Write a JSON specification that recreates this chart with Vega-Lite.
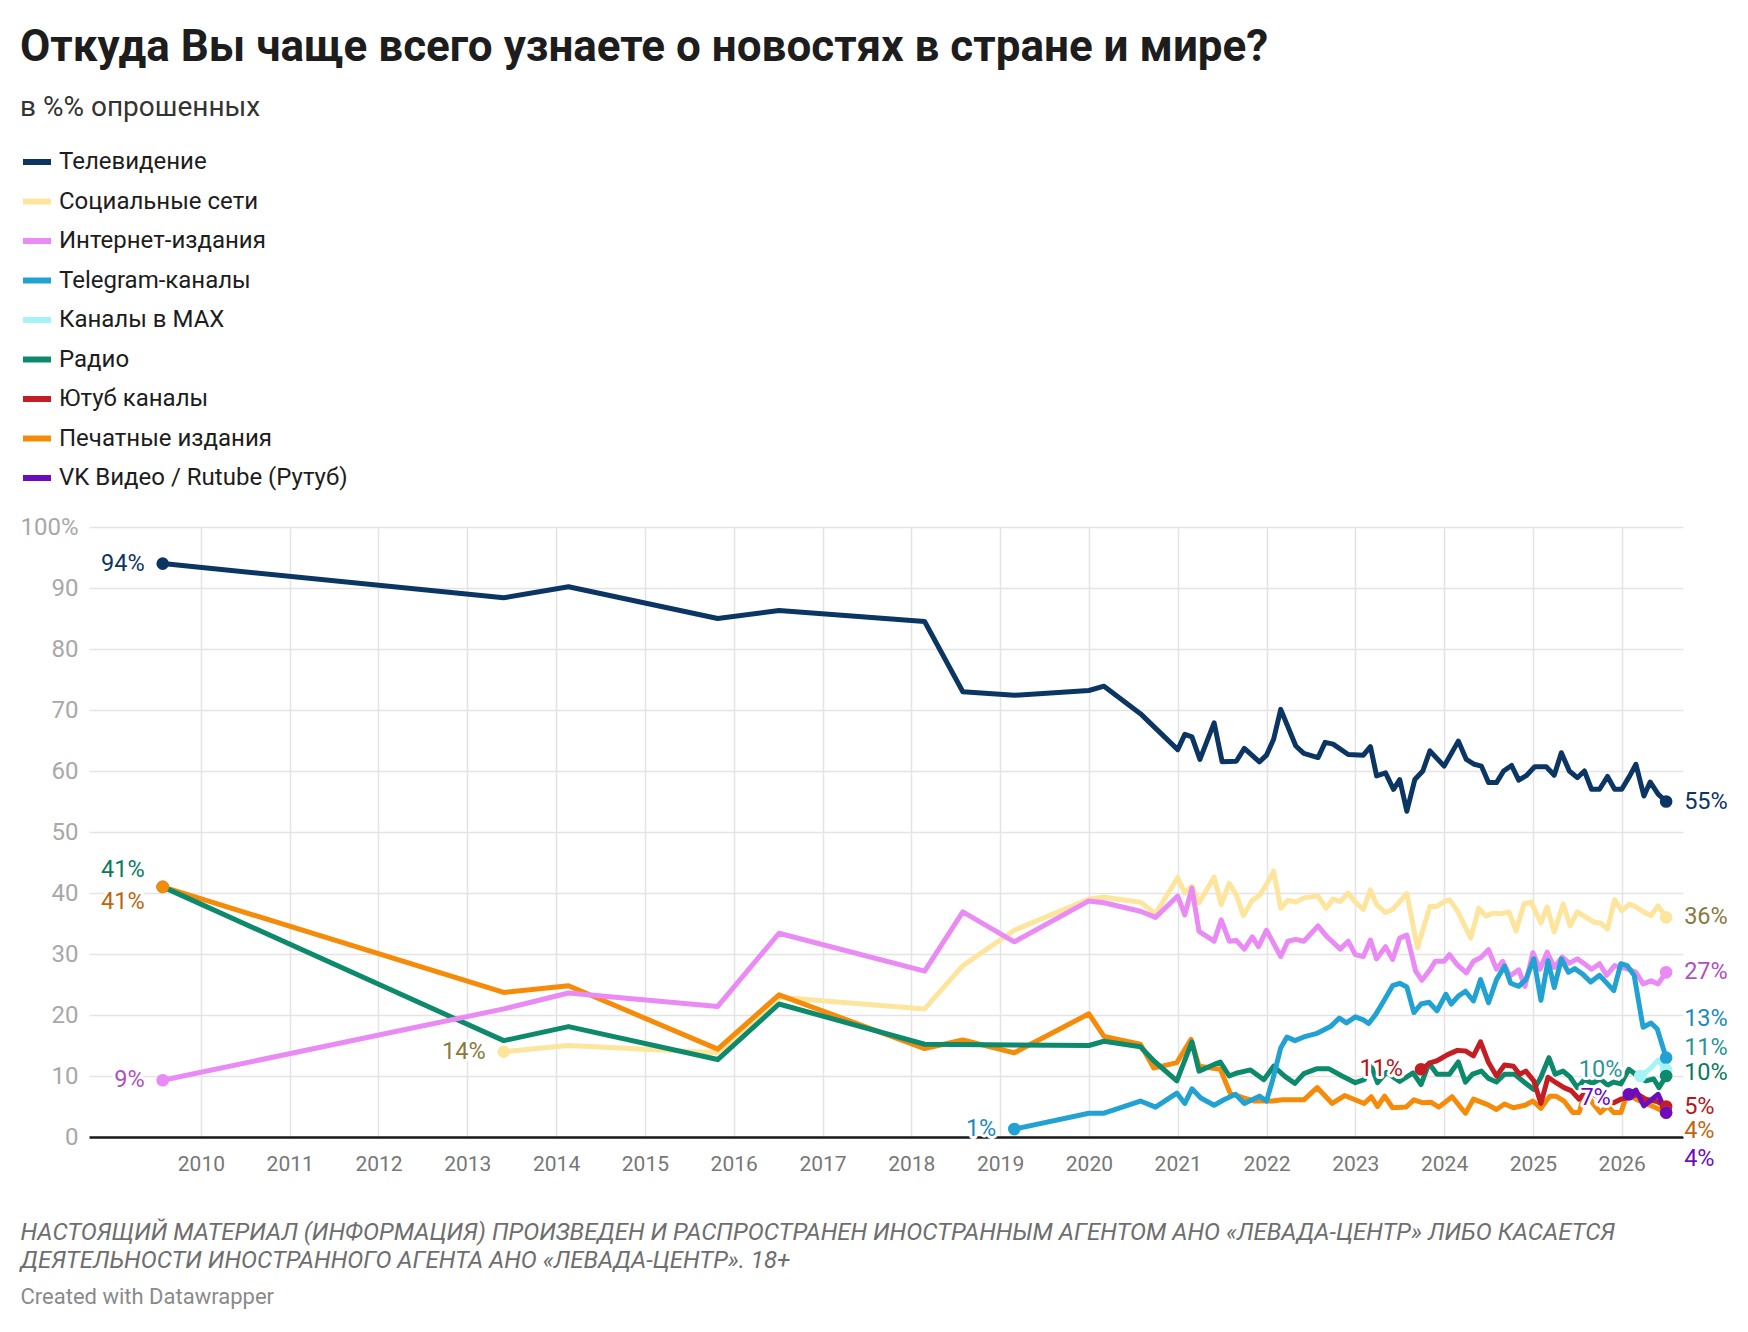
{
  "$schema": "https://vega.github.io/schema/vega-lite/v6.json",
  "width": 1594,
  "height": 610,
  "autosize": {"type": "none"},
  "padding": {"left": 89, "top": 527, "right": 65, "bottom": 195},
  "background": "white",
  "config": {
    "font": "Roboto",
    "view": {"stroke": null}
  },
  "title": {
    "text": "Откуда Вы чаще всего узнаете о новостях в стране и мире?",
    "subtitle": "в %% опрошенных",
    "anchor": "start",
    "frame": "group",
    "orient": "top",
    "offset": 23.5,
    "dx": -69,
    "font": "Roboto",
    "fontSize": 44,
    "fontWeight": 700,
    "color": "#1d1d1d",
    "subtitleFont": "Roboto",
    "subtitleFontSize": 28,
    "subtitleColor": "#333333",
    "subtitlePadding": 24
  },
  "datasets": {
    "lines": [
      {"series": "Социальные сети", "year": 2013.41, "value": 14},
      {"series": "Социальные сети", "year": 2014.14, "value": 15.0},
      {"series": "Социальные сети", "year": 2015.82, "value": 13.8},
      {"series": "Социальные сети", "year": 2016.51, "value": 22.9},
      {"series": "Социальные сети", "year": 2018.15, "value": 21.0},
      {"series": "Социальные сети", "year": 2018.58, "value": 28.1},
      {"series": "Социальные сети", "year": 2019.16, "value": 33.9},
      {"series": "Социальные сети", "year": 2020.0, "value": 39.0},
      {"series": "Социальные сети", "year": 2020.17, "value": 39.3},
      {"series": "Социальные сети", "year": 2020.58, "value": 38.5},
      {"series": "Социальные сети", "year": 2020.75, "value": 36.6},
      {"series": "Социальные сети", "year": 2021.0, "value": 42.5},
      {"series": "Социальные сети", "year": 2021.08, "value": 40.0},
      {"series": "Социальные сети", "year": 2021.16, "value": 41.1},
      {"series": "Социальные сети", "year": 2021.24, "value": 38.4},
      {"series": "Социальные сети", "year": 2021.41, "value": 42.6},
      {"series": "Социальные сети", "year": 2021.49, "value": 38.1},
      {"series": "Социальные сети", "year": 2021.58, "value": 41.6},
      {"series": "Социальные сети", "year": 2021.66, "value": 39.7},
      {"series": "Социальные сети", "year": 2021.74, "value": 36.3},
      {"series": "Социальные сети", "year": 2021.84, "value": 38.8},
      {"series": "Социальные сети", "year": 2021.92, "value": 39.6},
      {"series": "Социальные сети", "year": 2022.0, "value": 41.4},
      {"series": "Социальные сети", "year": 2022.08, "value": 43.6},
      {"series": "Социальные сети", "year": 2022.16, "value": 37.5},
      {"series": "Социальные сети", "year": 2022.24, "value": 38.8},
      {"series": "Социальные сети", "year": 2022.33, "value": 38.5},
      {"series": "Социальные сети", "year": 2022.42, "value": 39.2},
      {"series": "Социальные сети", "year": 2022.58, "value": 39.5},
      {"series": "Социальные сети", "year": 2022.67, "value": 37.5},
      {"series": "Социальные сети", "year": 2022.75, "value": 39.0},
      {"series": "Социальные сети", "year": 2022.83, "value": 38.6},
      {"series": "Социальные сети", "year": 2022.92, "value": 40.0},
      {"series": "Социальные сети", "year": 2023.0, "value": 38.5},
      {"series": "Социальные сети", "year": 2023.09, "value": 37.3},
      {"series": "Социальные сети", "year": 2023.17, "value": 40.5},
      {"series": "Социальные сети", "year": 2023.24, "value": 38.1},
      {"series": "Социальные сети", "year": 2023.34, "value": 36.8},
      {"series": "Социальные сети", "year": 2023.42, "value": 37.3},
      {"series": "Социальные сети", "year": 2023.58, "value": 39.9},
      {"series": "Социальные сети", "year": 2023.7, "value": 31.0},
      {"series": "Социальные сети", "year": 2023.84, "value": 37.8},
      {"series": "Социальные сети", "year": 2023.92, "value": 37.8},
      {"series": "Социальные сети", "year": 2024.0, "value": 38.6},
      {"series": "Социальные сети", "year": 2024.06, "value": 38.9},
      {"series": "Социальные сети", "year": 2024.14, "value": 37.3},
      {"series": "Социальные сети", "year": 2024.3, "value": 32.6},
      {"series": "Социальные сети", "year": 2024.39, "value": 37.5},
      {"series": "Социальные сети", "year": 2024.47, "value": 36.2},
      {"series": "Социальные сети", "year": 2024.55, "value": 36.7},
      {"series": "Социальные сети", "year": 2024.64, "value": 36.6},
      {"series": "Социальные сети", "year": 2024.73, "value": 36.9},
      {"series": "Социальные сети", "year": 2024.81, "value": 33.8},
      {"series": "Социальные сети", "year": 2024.9, "value": 38.2},
      {"series": "Социальные сети", "year": 2024.98, "value": 38.5},
      {"series": "Социальные сети", "year": 2025.09, "value": 35.1},
      {"series": "Социальные сети", "year": 2025.16, "value": 37.7},
      {"series": "Социальные сети", "year": 2025.24, "value": 33.6},
      {"series": "Социальные сети", "year": 2025.34, "value": 38.2},
      {"series": "Социальные сети", "year": 2025.42, "value": 34.6},
      {"series": "Социальные сети", "year": 2025.5, "value": 36.9},
      {"series": "Социальные сети", "year": 2025.6, "value": 36.0},
      {"series": "Социальные сети", "year": 2025.69, "value": 35.2},
      {"series": "Социальные сети", "year": 2025.76, "value": 35.1},
      {"series": "Социальные сети", "year": 2025.84, "value": 34.1},
      {"series": "Социальные сети", "year": 2025.92, "value": 38.9},
      {"series": "Социальные сети", "year": 2026.0, "value": 37.1},
      {"series": "Социальные сети", "year": 2026.09, "value": 38.2},
      {"series": "Социальные сети", "year": 2026.16, "value": 37.7},
      {"series": "Социальные сети", "year": 2026.25, "value": 36.9},
      {"series": "Социальные сети", "year": 2026.33, "value": 36.3},
      {"series": "Социальные сети", "year": 2026.41, "value": 37.9},
      {"series": "Социальные сети", "year": 2026.5, "value": 36.0},

      {"series": "Печатные издания", "year": 2009.57, "value": 41},
      {"series": "Печатные издания", "year": 2013.41, "value": 23.7},
      {"series": "Печатные издания", "year": 2014.14, "value": 24.8},
      {"series": "Печатные издания", "year": 2015.82, "value": 14.4},
      {"series": "Печатные издания", "year": 2016.51, "value": 23.3},
      {"series": "Печатные издания", "year": 2018.15, "value": 14.5},
      {"series": "Печатные издания", "year": 2018.58, "value": 15.9},
      {"series": "Печатные издания", "year": 2019.16, "value": 13.8},
      {"series": "Печатные издания", "year": 2020.0, "value": 20.2},
      {"series": "Печатные издания", "year": 2020.17, "value": 16.5},
      {"series": "Печатные издания", "year": 2020.58, "value": 15.2},
      {"series": "Печатные издания", "year": 2020.73, "value": 11.3},
      {"series": "Печатные издания", "year": 2020.99, "value": 12.2},
      {"series": "Печатные издания", "year": 2021.15, "value": 16.0},
      {"series": "Печатные издания", "year": 2021.24, "value": 11.6},
      {"series": "Печатные издания", "year": 2021.48, "value": 11.1},
      {"series": "Печатные издания", "year": 2021.59, "value": 7.2},
      {"series": "Печатные издания", "year": 2021.74, "value": 6.4},
      {"series": "Печатные издания", "year": 2021.86, "value": 5.9},
      {"series": "Печатные издания", "year": 2022.06, "value": 5.9},
      {"series": "Печатные издания", "year": 2022.18, "value": 6.1},
      {"series": "Печатные издания", "year": 2022.42, "value": 6.1},
      {"series": "Печатные издания", "year": 2022.57, "value": 8.1},
      {"series": "Печатные издания", "year": 2022.74, "value": 5.5},
      {"series": "Печатные издания", "year": 2022.88, "value": 6.8},
      {"series": "Печатные издания", "year": 2023.1, "value": 5.5},
      {"series": "Печатные издания", "year": 2023.18, "value": 6.6},
      {"series": "Печатные издания", "year": 2023.25, "value": 5.0},
      {"series": "Печатные издания", "year": 2023.33, "value": 6.7},
      {"series": "Печатные издания", "year": 2023.42, "value": 4.8},
      {"series": "Печатные издания", "year": 2023.57, "value": 4.9},
      {"series": "Печатные издания", "year": 2023.66, "value": 6.1},
      {"series": "Печатные издания", "year": 2023.76, "value": 5.6},
      {"series": "Печатные издания", "year": 2023.85, "value": 5.7},
      {"series": "Печатные издания", "year": 2023.94, "value": 4.9},
      {"series": "Печатные издания", "year": 2024.09, "value": 6.6},
      {"series": "Печатные издания", "year": 2024.24, "value": 3.9},
      {"series": "Печатные издания", "year": 2024.33, "value": 6.2},
      {"series": "Печатные издания", "year": 2024.49, "value": 5.3},
      {"series": "Печатные издания", "year": 2024.59, "value": 4.5},
      {"series": "Печатные издания", "year": 2024.68, "value": 5.4},
      {"series": "Печатные издания", "year": 2024.78, "value": 4.8},
      {"series": "Печатные издания", "year": 2024.91, "value": 5.2},
      {"series": "Печатные издания", "year": 2025.0, "value": 5.9},
      {"series": "Печатные издания", "year": 2025.09, "value": 4.7},
      {"series": "Печатные издания", "year": 2025.19, "value": 6.7},
      {"series": "Печатные издания", "year": 2025.26, "value": 6.7},
      {"series": "Печатные издания", "year": 2025.35, "value": 5.9},
      {"series": "Печатные издания", "year": 2025.45, "value": 4.0},
      {"series": "Печатные издания", "year": 2025.52, "value": 4.0},
      {"series": "Печатные издания", "year": 2025.59, "value": 7.6},
      {"series": "Печатные издания", "year": 2025.67, "value": 5.6},
      {"series": "Печатные издания", "year": 2025.76, "value": 4.0},
      {"series": "Печатные издания", "year": 2025.84, "value": 5.1},
      {"series": "Печатные издания", "year": 2025.91, "value": 4.0},
      {"series": "Печатные издания", "year": 2025.99, "value": 4.0},
      {"series": "Печатные издания", "year": 2026.06, "value": 7.0},
      {"series": "Печатные издания", "year": 2026.16, "value": 6.2},
      {"series": "Печатные издания", "year": 2026.25, "value": 5.6},
      {"series": "Печатные издания", "year": 2026.34, "value": 5.1},
      {"series": "Печатные издания", "year": 2026.5, "value": 4.0},

      {"series": "Радио", "year": 2009.57, "value": 41},
      {"series": "Радио", "year": 2013.41, "value": 15.8},
      {"series": "Радио", "year": 2014.14, "value": 18.1},
      {"series": "Радио", "year": 2015.82, "value": 12.7},
      {"series": "Радио", "year": 2016.51, "value": 21.8},
      {"series": "Радио", "year": 2018.15, "value": 15.2},
      {"series": "Радио", "year": 2019.16, "value": 15.1},
      {"series": "Радио", "year": 2020.0, "value": 15.0},
      {"series": "Радио", "year": 2020.17, "value": 15.7},
      {"series": "Радио", "year": 2020.58, "value": 14.8},
      {"series": "Радио", "year": 2020.73, "value": 12.5},
      {"series": "Радио", "year": 2020.99, "value": 9.2},
      {"series": "Радио", "year": 2021.16, "value": 15.6},
      {"series": "Радио", "year": 2021.24, "value": 10.8},
      {"series": "Радио", "year": 2021.41, "value": 11.9},
      {"series": "Радио", "year": 2021.48, "value": 12.3},
      {"series": "Радио", "year": 2021.58, "value": 10.0},
      {"series": "Радио", "year": 2021.67, "value": 10.5},
      {"series": "Радио", "year": 2021.82, "value": 11.0},
      {"series": "Радио", "year": 2021.97, "value": 9.4},
      {"series": "Радио", "year": 2022.08, "value": 11.6},
      {"series": "Радио", "year": 2022.21, "value": 9.9},
      {"series": "Радио", "year": 2022.32, "value": 8.8},
      {"series": "Радио", "year": 2022.42, "value": 10.4},
      {"series": "Радио", "year": 2022.57, "value": 11.2},
      {"series": "Радио", "year": 2022.7, "value": 11.2},
      {"series": "Радио", "year": 2022.85, "value": 10.0},
      {"series": "Радио", "year": 2023.0, "value": 8.9},
      {"series": "Радио", "year": 2023.1, "value": 9.4},
      {"series": "Радио", "year": 2023.18, "value": 11.6},
      {"series": "Радио", "year": 2023.25, "value": 8.9},
      {"series": "Радио", "year": 2023.35, "value": 10.6},
      {"series": "Радио", "year": 2023.5, "value": 9.1},
      {"series": "Радио", "year": 2023.65, "value": 10.5},
      {"series": "Радио", "year": 2023.74, "value": 8.6},
      {"series": "Радио", "year": 2023.83, "value": 12.1},
      {"series": "Радио", "year": 2023.92, "value": 10.3},
      {"series": "Радио", "year": 2024.06, "value": 10.3},
      {"series": "Радио", "year": 2024.16, "value": 12.3},
      {"series": "Радио", "year": 2024.24, "value": 9.0},
      {"series": "Радио", "year": 2024.32, "value": 10.3},
      {"series": "Радио", "year": 2024.42, "value": 10.8},
      {"series": "Радио", "year": 2024.5, "value": 9.6},
      {"series": "Радио", "year": 2024.59, "value": 9.0},
      {"series": "Радио", "year": 2024.68, "value": 10.3},
      {"series": "Радио", "year": 2024.79, "value": 10.3},
      {"series": "Радио", "year": 2024.91, "value": 8.9},
      {"series": "Радио", "year": 2025.01, "value": 7.8},
      {"series": "Радио", "year": 2025.09, "value": 9.8},
      {"series": "Радио", "year": 2025.18, "value": 13.0},
      {"series": "Радио", "year": 2025.25, "value": 10.3},
      {"series": "Радио", "year": 2025.34, "value": 10.8},
      {"series": "Радио", "year": 2025.42, "value": 9.8},
      {"series": "Радио", "year": 2025.5, "value": 8.1},
      {"series": "Радио", "year": 2025.58, "value": 9.4},
      {"series": "Радио", "year": 2025.67, "value": 8.8},
      {"series": "Радио", "year": 2025.76, "value": 9.5},
      {"series": "Радио", "year": 2025.84, "value": 8.5},
      {"series": "Радио", "year": 2025.91, "value": 9.0},
      {"series": "Радио", "year": 2025.99, "value": 8.7},
      {"series": "Радио", "year": 2026.08, "value": 11.1},
      {"series": "Радио", "year": 2026.18, "value": 10.0},
      {"series": "Радио", "year": 2026.27, "value": 9.2},
      {"series": "Радио", "year": 2026.36, "value": 9.5},
      {"series": "Радио", "year": 2026.42, "value": 8.1},
      {"series": "Радио", "year": 2026.5, "value": 10.0},

      {"series": "Ютуб каналы", "year": 2023.74, "value": 11.1},
      {"series": "Ютуб каналы", "year": 2023.85, "value": 12.2},
      {"series": "Ютуб каналы", "year": 2023.92, "value": 12.5},
      {"series": "Ютуб каналы", "year": 2024.04, "value": 13.5},
      {"series": "Ютуб каналы", "year": 2024.15, "value": 14.2},
      {"series": "Ютуб каналы", "year": 2024.24, "value": 14.1},
      {"series": "Ютуб каналы", "year": 2024.33, "value": 13.3},
      {"series": "Ютуб каналы", "year": 2024.41, "value": 15.6},
      {"series": "Ютуб каналы", "year": 2024.5, "value": 12.2},
      {"series": "Ютуб каналы", "year": 2024.59, "value": 10.0},
      {"series": "Ютуб каналы", "year": 2024.68, "value": 11.8},
      {"series": "Ютуб каналы", "year": 2024.78, "value": 11.6},
      {"series": "Ютуб каналы", "year": 2024.85, "value": 10.3},
      {"series": "Ютуб каналы", "year": 2024.92, "value": 10.8},
      {"series": "Ютуб каналы", "year": 2025.01, "value": 9.2},
      {"series": "Ютуб каналы", "year": 2025.09, "value": 5.5},
      {"series": "Ютуб каналы", "year": 2025.17, "value": 9.8},
      {"series": "Ютуб каналы", "year": 2025.26, "value": 8.9},
      {"series": "Ютуб каналы", "year": 2025.35, "value": 8.1},
      {"series": "Ютуб каналы", "year": 2025.43, "value": 7.6},
      {"series": "Ютуб каналы", "year": 2025.52, "value": 6.2},
      {"series": "Ютуб каналы", "year": 2025.6, "value": 7.5},
      {"series": "Ютуб каналы", "year": 2025.75, "value": 6.5},
      {"series": "Ютуб каналы", "year": 2025.91, "value": 5.6},
      {"series": "Ютуб каналы", "year": 2025.99, "value": 6.2},
      {"series": "Ютуб каналы", "year": 2026.08, "value": 6.5},
      {"series": "Ютуб каналы", "year": 2026.18, "value": 7.0},
      {"series": "Ютуб каналы", "year": 2026.27, "value": 6.2},
      {"series": "Ютуб каналы", "year": 2026.4, "value": 5.8},
      {"series": "Ютуб каналы", "year": 2026.5, "value": 5.0},

      {"series": "Интернет-издания", "year": 2009.57, "value": 9.3},
      {"series": "Интернет-издания", "year": 2013.41, "value": 21.0},
      {"series": "Интернет-издания", "year": 2014.14, "value": 23.6},
      {"series": "Интернет-издания", "year": 2015.82, "value": 21.4},
      {"series": "Интернет-издания", "year": 2016.51, "value": 33.4},
      {"series": "Интернет-издания", "year": 2018.15, "value": 27.2},
      {"series": "Интернет-издания", "year": 2018.58, "value": 36.9},
      {"series": "Интернет-издания", "year": 2019.16, "value": 32.0},
      {"series": "Интернет-издания", "year": 2020.0, "value": 38.7},
      {"series": "Интернет-издания", "year": 2020.17, "value": 38.4},
      {"series": "Интернет-издания", "year": 2020.58, "value": 37.0},
      {"series": "Интернет-издания", "year": 2020.75, "value": 36.0},
      {"series": "Интернет-издания", "year": 2021.0, "value": 39.5},
      {"series": "Интернет-издания", "year": 2021.08, "value": 36.4},
      {"series": "Интернет-издания", "year": 2021.16, "value": 40.8},
      {"series": "Интернет-издания", "year": 2021.24, "value": 33.7},
      {"series": "Интернет-издания", "year": 2021.41, "value": 32.1},
      {"series": "Интернет-издания", "year": 2021.49, "value": 35.6},
      {"series": "Интернет-издания", "year": 2021.58, "value": 32.1},
      {"series": "Интернет-издания", "year": 2021.66, "value": 32.2},
      {"series": "Интернет-издания", "year": 2021.75, "value": 30.8},
      {"series": "Интернет-издания", "year": 2021.84, "value": 32.8},
      {"series": "Интернет-издания", "year": 2021.91, "value": 31.2},
      {"series": "Интернет-издания", "year": 2022.0, "value": 33.9},
      {"series": "Интернет-издания", "year": 2022.16, "value": 29.6},
      {"series": "Интернет-издания", "year": 2022.24, "value": 32.1},
      {"series": "Интернет-издания", "year": 2022.33, "value": 32.4},
      {"series": "Интернет-издания", "year": 2022.42, "value": 32.1},
      {"series": "Интернет-издания", "year": 2022.58, "value": 34.6},
      {"series": "Интернет-издания", "year": 2022.67, "value": 33.0},
      {"series": "Интернет-издания", "year": 2022.83, "value": 30.8},
      {"series": "Интернет-издания", "year": 2022.92, "value": 32.1},
      {"series": "Интернет-издания", "year": 2023.0, "value": 29.9},
      {"series": "Интернет-издания", "year": 2023.09, "value": 29.6},
      {"series": "Интернет-издания", "year": 2023.17, "value": 32.3},
      {"series": "Интернет-издания", "year": 2023.24, "value": 29.2},
      {"series": "Интернет-издания", "year": 2023.34, "value": 31.2},
      {"series": "Интернет-издания", "year": 2023.42, "value": 29.1},
      {"series": "Интернет-издания", "year": 2023.5, "value": 32.6},
      {"series": "Интернет-издания", "year": 2023.58, "value": 33.1},
      {"series": "Интернет-издания", "year": 2023.68, "value": 27.2},
      {"series": "Интернет-издания", "year": 2023.75, "value": 25.7},
      {"series": "Интернет-издания", "year": 2023.84, "value": 27.4},
      {"series": "Интернет-издания", "year": 2023.9, "value": 28.8},
      {"series": "Интернет-издания", "year": 2024.0, "value": 28.8},
      {"series": "Интернет-издания", "year": 2024.06, "value": 29.9},
      {"series": "Интернет-издания", "year": 2024.15, "value": 28.2},
      {"series": "Интернет-издания", "year": 2024.25, "value": 26.9},
      {"series": "Интернет-издания", "year": 2024.33, "value": 28.8},
      {"series": "Интернет-издания", "year": 2024.41, "value": 29.4},
      {"series": "Интернет-издания", "year": 2024.5, "value": 30.7},
      {"series": "Интернет-издания", "year": 2024.59, "value": 27.5},
      {"series": "Интернет-издания", "year": 2024.66, "value": 28.8},
      {"series": "Интернет-издания", "year": 2024.74, "value": 26.4},
      {"series": "Интернет-издания", "year": 2024.84, "value": 27.4},
      {"series": "Интернет-издания", "year": 2024.91, "value": 24.7},
      {"series": "Интернет-издания", "year": 2025.0, "value": 30.2},
      {"series": "Интернет-издания", "year": 2025.08, "value": 27.5},
      {"series": "Интернет-издания", "year": 2025.16, "value": 30.3},
      {"series": "Интернет-издания", "year": 2025.24, "value": 27.8},
      {"series": "Интернет-издания", "year": 2025.33, "value": 29.5},
      {"series": "Интернет-издания", "year": 2025.41, "value": 28.5},
      {"series": "Интернет-издания", "year": 2025.5, "value": 29.2},
      {"series": "Интернет-издания", "year": 2025.58, "value": 28.4},
      {"series": "Интернет-издания", "year": 2025.66, "value": 27.5},
      {"series": "Интернет-издания", "year": 2025.75, "value": 28.4},
      {"series": "Интернет-издания", "year": 2025.83, "value": 26.5},
      {"series": "Интернет-издания", "year": 2025.92, "value": 28.1},
      {"series": "Интернет-издания", "year": 2026.0, "value": 27.8},
      {"series": "Интернет-издания", "year": 2026.08, "value": 27.5},
      {"series": "Интернет-издания", "year": 2026.16, "value": 27.0},
      {"series": "Интернет-издания", "year": 2026.24, "value": 25.1},
      {"series": "Интернет-издания", "year": 2026.33, "value": 25.6},
      {"series": "Интернет-издания", "year": 2026.41, "value": 25.1},
      {"series": "Интернет-издания", "year": 2026.5, "value": 27.0},

      {"series": "Каналы в MAX", "year": 2026.21, "value": 10.0},
      {"series": "Каналы в MAX", "year": 2026.32, "value": 11.2},
      {"series": "Каналы в MAX", "year": 2026.41, "value": 12.6},
      {"series": "Каналы в MAX", "year": 2026.5, "value": 11.0},

      {"series": "Telegram-каналы", "year": 2019.16, "value": 1.3},
      {"series": "Telegram-каналы", "year": 2020.0, "value": 3.9},
      {"series": "Telegram-каналы", "year": 2020.17, "value": 3.9},
      {"series": "Telegram-каналы", "year": 2020.58, "value": 5.9},
      {"series": "Telegram-каналы", "year": 2020.75, "value": 4.9},
      {"series": "Telegram-каналы", "year": 2020.99, "value": 7.2},
      {"series": "Telegram-каналы", "year": 2021.08, "value": 5.5},
      {"series": "Telegram-каналы", "year": 2021.16, "value": 7.9},
      {"series": "Telegram-каналы", "year": 2021.26, "value": 6.4},
      {"series": "Telegram-каналы", "year": 2021.41, "value": 5.2},
      {"series": "Telegram-каналы", "year": 2021.52, "value": 6.1},
      {"series": "Telegram-каналы", "year": 2021.65, "value": 7.0},
      {"series": "Telegram-каналы", "year": 2021.75, "value": 5.5},
      {"series": "Telegram-каналы", "year": 2021.92, "value": 6.7},
      {"series": "Telegram-каналы", "year": 2022.0, "value": 5.9},
      {"series": "Telegram-каналы", "year": 2022.07, "value": 9.4},
      {"series": "Telegram-каналы", "year": 2022.16, "value": 14.6},
      {"series": "Telegram-каналы", "year": 2022.23, "value": 16.4},
      {"series": "Telegram-каналы", "year": 2022.32, "value": 15.8},
      {"series": "Telegram-каналы", "year": 2022.42, "value": 16.4},
      {"series": "Telegram-каналы", "year": 2022.57, "value": 17.0},
      {"series": "Telegram-каналы", "year": 2022.72, "value": 18.1},
      {"series": "Telegram-каналы", "year": 2022.82, "value": 19.5},
      {"series": "Telegram-каналы", "year": 2022.9, "value": 18.7},
      {"series": "Telegram-каналы", "year": 2023.0, "value": 19.7},
      {"series": "Telegram-каналы", "year": 2023.09, "value": 19.2},
      {"series": "Telegram-каналы", "year": 2023.15, "value": 18.6},
      {"series": "Telegram-каналы", "year": 2023.23, "value": 20.1},
      {"series": "Telegram-каналы", "year": 2023.32, "value": 22.3},
      {"series": "Telegram-каналы", "year": 2023.42, "value": 24.8},
      {"series": "Telegram-каналы", "year": 2023.5, "value": 25.2},
      {"series": "Telegram-каналы", "year": 2023.58, "value": 24.6},
      {"series": "Telegram-каналы", "year": 2023.66, "value": 20.4},
      {"series": "Telegram-каналы", "year": 2023.74, "value": 21.8},
      {"series": "Telegram-каналы", "year": 2023.83, "value": 22.1},
      {"series": "Telegram-каналы", "year": 2023.92, "value": 20.7},
      {"series": "Telegram-каналы", "year": 2024.02, "value": 23.4},
      {"series": "Telegram-каналы", "year": 2024.08, "value": 21.8},
      {"series": "Telegram-каналы", "year": 2024.16, "value": 23.1},
      {"series": "Telegram-каналы", "year": 2024.24, "value": 23.9},
      {"series": "Telegram-каналы", "year": 2024.33, "value": 22.3},
      {"series": "Telegram-каналы", "year": 2024.41, "value": 25.8},
      {"series": "Telegram-каналы", "year": 2024.5, "value": 22.0},
      {"series": "Telegram-каналы", "year": 2024.59, "value": 25.8},
      {"series": "Telegram-каналы", "year": 2024.68, "value": 28.0},
      {"series": "Telegram-каналы", "year": 2024.75, "value": 25.2},
      {"series": "Telegram-каналы", "year": 2024.84, "value": 24.7},
      {"series": "Telegram-каналы", "year": 2024.92, "value": 25.8},
      {"series": "Telegram-каналы", "year": 2025.01, "value": 29.2},
      {"series": "Telegram-каналы", "year": 2025.09, "value": 22.4},
      {"series": "Telegram-каналы", "year": 2025.17, "value": 28.9},
      {"series": "Telegram-каналы", "year": 2025.24, "value": 24.5},
      {"series": "Telegram-каналы", "year": 2025.32, "value": 29.2},
      {"series": "Telegram-каналы", "year": 2025.4, "value": 27.0},
      {"series": "Telegram-каналы", "year": 2025.47, "value": 27.6},
      {"series": "Telegram-каналы", "year": 2025.56, "value": 26.7},
      {"series": "Telegram-каналы", "year": 2025.65, "value": 25.4},
      {"series": "Telegram-каналы", "year": 2025.75, "value": 26.5},
      {"series": "Telegram-каналы", "year": 2025.84, "value": 25.1},
      {"series": "Telegram-каналы", "year": 2025.91, "value": 24.0},
      {"series": "Telegram-каналы", "year": 2025.99, "value": 28.4},
      {"series": "Telegram-каналы", "year": 2026.06, "value": 28.1},
      {"series": "Telegram-каналы", "year": 2026.14, "value": 26.5},
      {"series": "Telegram-каналы", "year": 2026.24, "value": 18.0},
      {"series": "Telegram-каналы", "year": 2026.33, "value": 18.7},
      {"series": "Telegram-каналы", "year": 2026.4, "value": 17.7},
      {"series": "Telegram-каналы", "year": 2026.5, "value": 13.0},

      {"series": "VK Видео / Rutube (Рутуб)", "year": 2026.08, "value": 7.0},
      {"series": "VK Видео / Rutube (Рутуб)", "year": 2026.16, "value": 7.7},
      {"series": "VK Видео / Rutube (Рутуб)", "year": 2026.25, "value": 5.1},
      {"series": "VK Видео / Rutube (Рутуб)", "year": 2026.41, "value": 7.0},
      {"series": "VK Видео / Rutube (Рутуб)", "year": 2026.5, "value": 4.0},

      {"series": "Телевидение", "year": 2009.57, "value": 94},
      {"series": "Телевидение", "year": 2013.41, "value": 88.4},
      {"series": "Телевидение", "year": 2014.14, "value": 90.2},
      {"series": "Телевидение", "year": 2015.82, "value": 85.0},
      {"series": "Телевидение", "year": 2016.51, "value": 86.3},
      {"series": "Телевидение", "year": 2018.15, "value": 84.5},
      {"series": "Телевидение", "year": 2018.58, "value": 73.0},
      {"series": "Телевидение", "year": 2019.16, "value": 72.4},
      {"series": "Телевидение", "year": 2020.0, "value": 73.2},
      {"series": "Телевидение", "year": 2020.17, "value": 73.9},
      {"series": "Телевидение", "year": 2020.58, "value": 69.4},
      {"series": "Телевидение", "year": 2021.0, "value": 63.5},
      {"series": "Телевидение", "year": 2021.08, "value": 66.0},
      {"series": "Телевидение", "year": 2021.16, "value": 65.6},
      {"series": "Телевидение", "year": 2021.25, "value": 61.9},
      {"series": "Телевидение", "year": 2021.41, "value": 67.9},
      {"series": "Телевидение", "year": 2021.5, "value": 61.5},
      {"series": "Телевидение", "year": 2021.66, "value": 61.6},
      {"series": "Телевидение", "year": 2021.75, "value": 63.7},
      {"series": "Телевидение", "year": 2021.92, "value": 61.5},
      {"series": "Телевидение", "year": 2022.0, "value": 62.6},
      {"series": "Телевидение", "year": 2022.08, "value": 65.2},
      {"series": "Телевидение", "year": 2022.16, "value": 70.1},
      {"series": "Телевидение", "year": 2022.33, "value": 64.1},
      {"series": "Телевидение", "year": 2022.42, "value": 62.9},
      {"series": "Телевидение", "year": 2022.58, "value": 62.2},
      {"series": "Телевидение", "year": 2022.66, "value": 64.7},
      {"series": "Телевидение", "year": 2022.75, "value": 64.4},
      {"series": "Телевидение", "year": 2022.92, "value": 62.7},
      {"series": "Телевидение", "year": 2023.09, "value": 62.6},
      {"series": "Телевидение", "year": 2023.17, "value": 64.0},
      {"series": "Телевидение", "year": 2023.24, "value": 59.2},
      {"series": "Телевидение", "year": 2023.34, "value": 59.7},
      {"series": "Телевидение", "year": 2023.43, "value": 57.0},
      {"series": "Телевидение", "year": 2023.5, "value": 58.6},
      {"series": "Телевидение", "year": 2023.58, "value": 53.4},
      {"series": "Телевидение", "year": 2023.67, "value": 58.6},
      {"series": "Телевидение", "year": 2023.76, "value": 60.0},
      {"series": "Телевидение", "year": 2023.84, "value": 63.3},
      {"series": "Телевидение", "year": 2024.0, "value": 60.8},
      {"series": "Телевидение", "year": 2024.16, "value": 64.9},
      {"series": "Телевидение", "year": 2024.25, "value": 61.9},
      {"series": "Телевидение", "year": 2024.34, "value": 61.1},
      {"series": "Телевидение", "year": 2024.42, "value": 60.8},
      {"series": "Телевидение", "year": 2024.5, "value": 58.1},
      {"series": "Телевидение", "year": 2024.59, "value": 58.1},
      {"series": "Телевидение", "year": 2024.67, "value": 60.0},
      {"series": "Телевидение", "year": 2024.76, "value": 60.9},
      {"series": "Телевидение", "year": 2024.84, "value": 58.5},
      {"series": "Телевидение", "year": 2024.93, "value": 59.3},
      {"series": "Телевидение", "year": 2025.02, "value": 60.7},
      {"series": "Телевидение", "year": 2025.15, "value": 60.7},
      {"series": "Телевидение", "year": 2025.24, "value": 59.3},
      {"series": "Телевидение", "year": 2025.32, "value": 63.0},
      {"series": "Телевидение", "year": 2025.41, "value": 60.0},
      {"series": "Телевидение", "year": 2025.5, "value": 58.9},
      {"series": "Телевидение", "year": 2025.58, "value": 60.0},
      {"series": "Телевидение", "year": 2025.66, "value": 57.0},
      {"series": "Телевидение", "year": 2025.75, "value": 57.0},
      {"series": "Телевидение", "year": 2025.84, "value": 59.1},
      {"series": "Телевидение", "year": 2025.92, "value": 57.0},
      {"series": "Телевидение", "year": 2026.0, "value": 57.0},
      {"series": "Телевидение", "year": 2026.09, "value": 59.2},
      {"series": "Телевидение", "year": 2026.16, "value": 61.1},
      {"series": "Телевидение", "year": 2026.25, "value": 55.9},
      {"series": "Телевидение", "year": 2026.32, "value": 58.2},
      {"series": "Телевидение", "year": 2026.41, "value": 56.2},
      {"series": "Телевидение", "year": 2026.5, "value": 55.0}
    ],
    "ends": [
      {"series": "Телевидение", "side": "start", "year": 2009.57, "value": 94, "label": "94%"},
      {"series": "Социальные сети", "side": "start", "year": 2013.41, "value": 14, "label": "14%"},
      {"series": "Интернет-издания", "side": "start", "year": 2009.57, "value": 9.3, "label": "9%"},
      {"series": "Telegram-каналы", "side": "start", "year": 2019.16, "value": 1.3, "label": "1%"},
      {"series": "Каналы в MAX", "side": "start", "year": 2026.21, "value": 10.0, "label": "10%"},
      {"series": "Радио", "side": "start", "year": 2009.57, "value": 41, "label": "41%"},
      {"series": "Ютуб каналы", "side": "start", "year": 2023.74, "value": 11.1, "label": "11%"},
      {"series": "Печатные издания", "side": "start", "year": 2009.57, "value": 41, "label": "41%"},
      {"series": "VK Видео / Rutube (Рутуб)", "side": "start", "year": 2026.08, "value": 7.0, "label": "7%"},
      {"series": "Телевидение", "side": "end", "year": 2026.5, "value": 55.0, "label": "55%"},
      {"series": "Социальные сети", "side": "end", "year": 2026.5, "value": 36.0, "label": "36%"},
      {"series": "Интернет-издания", "side": "end", "year": 2026.5, "value": 27.0, "label": "27%"},
      {"series": "Telegram-каналы", "side": "end", "year": 2026.5, "value": 13.0, "label": "13%"},
      {"series": "Каналы в MAX", "side": "end", "year": 2026.5, "value": 11.0, "label": "11%"},
      {"series": "Радио", "side": "end", "year": 2026.5, "value": 10.0, "label": "10%"},
      {"series": "Ютуб каналы", "side": "end", "year": 2026.5, "value": 5.0, "label": "5%"},
      {"series": "Печатные издания", "side": "end", "year": 2026.5, "value": 4.0, "label": "4%"},
      {"series": "VK Видео / Rutube (Рутуб)", "side": "end", "year": 2026.5, "value": 4.0, "label": "4%"}
    ]
  },
  "layer": [
    {
      "data": {"name": "lines"},
      "mark": {"type": "line", "strokeWidth": 5, "strokeJoin": "round", "strokeCap": "round"},
      "encoding": {
        "x": {
          "field": "year", "type": "quantitative",
          "scale": {"domain": [2008.74, 2026.69], "nice": false, "zero": false},
          "axis": {
            "values": [2010, 2011, 2012, 2013, 2014, 2015, 2016, 2017, 2018, 2019, 2020, 2021, 2022, 2023, 2024, 2025, 2026],
            "format": "d",
            "grid": true, "gridColor": "#e4e4e4", "gridWidth": 1.5,
            "ticks": false,
            "domain": true, "domainColor": "#1a1a1a", "domainWidth": 2.5,
            "labelColor": "#777777", "labelFontSize": 21, "labelPadding": 16, "labelFont": "Roboto",
            "labelFlush": false, "labelOverlap": false,
            "title": ["НАСТОЯЩИЙ МАТЕРИАЛ (ИНФОРМАЦИЯ) ПРОИЗВЕДЕН И РАСПРОСТРАНЕН ИНОСТРАННЫМ АГЕНТОМ АНО «ЛЕВАДА-ЦЕНТР» ЛИБО КАСАЕТСЯ", "ДЕЯТЕЛЬНОСТИ ИНОСТРАННОГО АГЕНТА АНО «ЛЕВАДА-ЦЕНТР». 18+"],
            "titleAnchor": "start", "titleAlign": "left", "titleBaseline": "alphabetic",
            "titleX": -69, "titleY": 102,
            "titleFont": "Roboto", "titleFontStyle": "italic", "titleFontWeight": "normal",
            "titleFontSize": 24, "titleColor": "#6e6e6e", "titleLineHeight": 28
          }
        },
        "y": {
          "field": "value", "type": "quantitative",
          "scale": {"domain": [0, 100], "nice": false},
          "axis": {
            "values": [0, 10, 20, 30, 40, 50, 60, 70, 80, 90, 100],
            "grid": true, "gridColor": "#e4e4e4", "gridWidth": 1.5,
            "ticks": false, "domain": false,
            "labelColor": "#a8a8a8", "labelFontSize": 24, "labelPadding": 11, "labelFont": "Roboto",
            "labelExpr": "datum.value == 100 ? '100%' : datum.label",
            "title": "Created with Datawrapper",
            "titleAngle": 0, "titleAlign": "left", "titleBaseline": "alphabetic",
            "titleX": -69, "titleY": 776,
            "titleFont": "Roboto", "titleFontSize": 22, "titleFontWeight": "normal", "titleColor": "#8a8a8a"
          }
        },
        "color": {
          "field": "series", "type": "nominal",
          "scale": {
            "domain": ["Телевидение", "Социальные сети", "Интернет-издания", "Telegram-каналы", "Каналы в MAX", "Радио", "Ютуб каналы", "Печатные издания", "VK Видео / Rutube (Рутуб)"],
            "range": ["#0b3563", "#fde59e", "#e98af5", "#22a2d2", "#a5f3f7", "#0d8a6c", "#c41e24", "#f68b0a", "#6c0cbd"]
          },
          "legend": {
            "title": null, "orient": "none", "legendX": -69, "legendY": -382,
            "direction": "vertical", "symbolType": "stroke", "symbolStrokeWidth": 6,
            "symbolSize": 784, "labelFontSize": 24, "labelColor": "#1d1d1d", "labelFont": "Roboto",
            "rowPadding": 10.5, "labelOffset": 5, "labelLimit": 600
          }
        }
      }
    },
    {
      "data": {"name": "ends"},
      "mark": {"type": "point", "filled": true, "size": 160, "opacity": 1},
      "encoding": {
        "x": {"field": "year", "type": "quantitative"},
        "y": {"field": "value", "type": "quantitative"},
        "color": {"field": "series", "type": "nominal", "legend": {
            "title": null, "orient": "none", "legendX": -69, "legendY": -382,
            "direction": "vertical", "symbolType": "stroke", "symbolStrokeWidth": 6,
            "symbolSize": 784, "labelFontSize": 24, "labelColor": "#1d1d1d", "labelFont": "Roboto",
            "rowPadding": 10.5, "labelOffset": 5, "labelLimit": 600
          }}
      }
    },
    {
      "data": {"name": "ends"},
      "transform": [{"filter": "datum.side == 'start'"}],
      "mark": {"type": "text", "align": "right", "baseline": "middle", "dx": -18,
        "dy": {"expr": "datum.series == 'Радио' ? -17 : datum.series == 'Печатные издания' ? 15 : datum.series == 'Каналы в MAX' ? -6 : datum.series == 'VK Видео / Rutube (Рутуб)' ? 4 : 0"},
        "font": "Roboto", "fontSize": 23.5, "fill": "white", "stroke": "white", "strokeWidth": 6, "strokeJoin": "round"},
      "encoding": {
        "x": {"field": "year", "type": "quantitative"},
        "y": {"field": "value", "type": "quantitative"},
        "text": {"field": "label"}
      }
    },
    {
      "data": {"name": "ends"},
      "transform": [{"filter": "datum.side == 'start'"}],
      "mark": {"type": "text", "align": "right", "baseline": "middle", "dx": -18,
        "dy": {"expr": "datum.series == 'Радио' ? -17 : datum.series == 'Печатные издания' ? 15 : datum.series == 'Каналы в MAX' ? -6 : datum.series == 'VK Видео / Rutube (Рутуб)' ? 4 : 0"},
        "font": "Roboto", "fontSize": 23.5},
      "encoding": {
        "x": {"field": "year", "type": "quantitative"},
        "y": {"field": "value", "type": "quantitative"},
        "text": {"field": "label"},
        "fill": {
          "field": "series", "type": "nominal", "legend": null,
          "scale": {
            "domain": ["Телевидение", "Социальные сети", "Интернет-издания", "Telegram-каналы", "Каналы в MAX", "Радио", "Ютуб каналы", "Печатные издания", "VK Видео / Rutube (Рутуб)"],
            "range": ["#0b3563", "#8a7a3e", "#b04fc0", "#1a8bbd", "#2a9599", "#0b7a5e", "#b5161c", "#c0650d", "#6c0cbd"]
          }
        }
      }
    },
    {
      "data": {"name": "ends"},
      "transform": [{"filter": "datum.side == 'end'"}],
      "mark": {"type": "text", "align": "left", "baseline": "middle", "dx": 18,
        "dy": {"expr": "datum.series == 'Telegram-каналы' ? -39 : datum.series == 'Каналы в MAX' ? -22 : datum.series == 'Радио' ? -3 : datum.series == 'Печатные издания' ? 18.5 : datum.series == 'VK Видео / Rutube (Рутуб)' ? 46.5 : 0"},
        "font": "Roboto", "fontSize": 23.5, "fill": "white", "stroke": "white", "strokeWidth": 6, "strokeJoin": "round"},
      "encoding": {
        "x": {"field": "year", "type": "quantitative"},
        "y": {"field": "value", "type": "quantitative"},
        "text": {"field": "label"}
      }
    },
    {
      "data": {"name": "ends"},
      "transform": [{"filter": "datum.side == 'end'"}],
      "mark": {"type": "text", "align": "left", "baseline": "middle", "dx": 18,
        "dy": {"expr": "datum.series == 'Telegram-каналы' ? -39 : datum.series == 'Каналы в MAX' ? -22 : datum.series == 'Радио' ? -3 : datum.series == 'Печатные издания' ? 18.5 : datum.series == 'VK Видео / Rutube (Рутуб)' ? 46.5 : 0"},
        "font": "Roboto", "fontSize": 23.5},
      "encoding": {
        "x": {"field": "year", "type": "quantitative"},
        "y": {"field": "value", "type": "quantitative"},
        "text": {"field": "label"},
        "fill": {"field": "series", "type": "nominal", "legend": null}
      }
    }
  ]
}
